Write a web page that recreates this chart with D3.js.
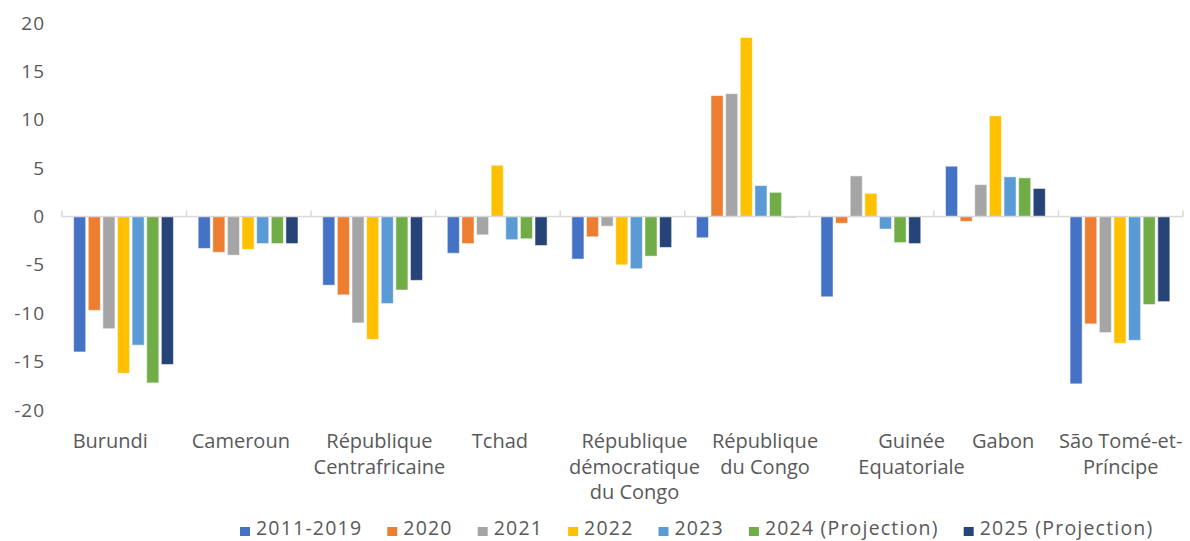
<!DOCTYPE html>
<html>
<head>
<meta charset="utf-8">
<script src="https://cdn.jsdelivr.net/npm/d3@7"></script>
<style>
  html, body { margin: 0; padding: 0; background: #fff; }
  svg { display: block; font-family: "Open Sans", sans-serif; }
</style>
</head>
<body>
<div id="chart"></div>
<script>
// Soldes par pays (CEMAC + voisins), 2011-2019 à 2025 (projections)

const countries = [
  'Burundi', 'Cameroun', 'République Centrafricaine', 'Tchad',
  'République démocratique du Congo', 'République du Congo',
  'Guinée Equatoriale', 'Gabon', 'São Tomé-et-Príncipe'
];
// label lines as they wrap in the original
const countryLines = [
  ['Burundi'], ['Cameroun'], ['République', 'Centrafricaine'], ['Tchad'],
  ['République', 'démocratique', 'du Congo'], ['République', 'du Congo'],
  ['Guinée', 'Equatoriale'], ['Gabon'], ['São Tomé-et-', 'Príncipe']
];

const seriesNames = ['2011-2019', '2020', '2021', '2022', '2023', '2024 (Projection)', '2025 (Projection)'];

// one array per series, in the order of countries
const v2011_2019 = [-14.0, -3.3, -7.1, -3.8, -4.4, -2.2, -8.3, 5.2, -17.3];
const v2020      = [-9.7, -3.7, -8.1, -2.8, -2.1, 12.5, -0.7, -0.5, -11.1];
const v2021      = [-11.6, -4.0, -11.0, -1.9, -1.0, 12.7, 4.2, 3.3, -12.0];
const v2022      = [-16.2, -3.4, -12.7, 5.3, -5.0, 18.5, 2.4, 10.4, -13.1];
const v2023      = [-13.3, -2.8, -9.0, -2.4, -5.4, 3.2, -1.3, 4.1, -12.8];
const v2024      = [-17.2, -2.8, -7.6, -2.3, -4.1, 2.5, -2.7, 4.0, -9.1];
const v2025      = [-15.3, -2.8, -6.6, -3.0, -3.2, -0.1, -2.8, 2.9, -8.8];

const yTicks = [-20, -15, -10, -5, 0, 5, 10, 15, 20];

const colors = ['#4472C4', '#ED7D31', '#A5A5A5', '#FFC000', '#5B9BD5', '#70AD47', '#264478'];

const seriesValues = [v2011_2019, v2020, v2021, v2022, v2023, v2024, v2025];

// layout
const W = 1190, H = 541;
const plot = { left: 62, right: 1183, top: 23, bottom: 410 };
// small horizontal nudges for the category labels, as placed in the original
const labelDx = [-14, -8, 6, 2, 12, 18, 40, 7, 0];

const svg = d3.select('#chart').append('svg')
  .attr('width', W).attr('height', H)
  .attr('viewBox', `0 0 ${W} ${H}`);

const x0 = d3.scaleBand().domain(countries).range([plot.left, plot.right]).padding(0);
const x1 = d3.scaleBand().domain(seriesNames).range([0, x0.bandwidth()])
  .paddingInner(0).paddingOuter(0.76);
const y = d3.scaleLinear().domain([-20, 20]).range([plot.bottom, plot.top]);

// y axis labels (no axis line, no grid); plain hyphen for negatives like Excel
const yAxis = svg.append('g')
  .attr('transform', `translate(${plot.left - 17},0)`)
  .call(d3.axisLeft(y).tickValues(yTicks).tickSize(0).tickPadding(0).tickFormat((d) => String(d)));
yAxis.select('.domain').remove();
yAxis.selectAll('text')
  .attr('fill', '#595959')
  .style('font-size', '19px')
  .style('letter-spacing', '1px')
  .style('font-family', '"Open Sans", sans-serif');

// bars
const rows = [];
countries.forEach((c, i) => {
  seriesNames.forEach((s, j) => rows.push({ country: c, series: s, value: seriesValues[j][i], k: j }));
});

svg.append('g').selectAll('rect')
  .data(rows)
  .join('rect')
  .attr('x', (d) => x0(d.country) + x1(d.series) + 0.5)
  .attr('width', x1.bandwidth() - 2.5)
  .attr('y', (d) => y(Math.max(0, d.value)))
  .attr('height', (d) => Math.abs(y(d.value) - y(0)))
  .attr('fill', (d) => colors[d.k])
  .attr('stroke', '#fff')
  .attr('stroke-opacity', 0.55)
  .attr('stroke-width', 1);

// zero line with category tick marks
const zero = y(0);
svg.append('line')
  .attr('x1', plot.left).attr('x2', plot.right)
  .attr('y1', zero).attr('y2', zero)
  .attr('stroke', '#D9D9D9').attr('stroke-width', 1.5);
const bounds = countries.map((c) => x0(c)).concat([plot.right]);
svg.append('g').selectAll('line')
  .data(bounds)
  .join('line')
  .attr('x1', (d) => d).attr('x2', (d) => d)
  .attr('y1', zero - 6).attr('y2', zero)
  .attr('stroke', '#D9D9D9').attr('stroke-width', 1.5);

// category labels
const catG = svg.append('g')
  .attr('font-size', 20)
  .attr('fill', '#595959')
  .attr('text-anchor', 'middle');
countryLines.forEach((lines, i) => {
  const cx = x0(countries[i]) + x0.bandwidth() / 2 + labelDx[i];
  const t = catG.append('text').attr('x', cx).attr('y', 448);
  lines.forEach((ln, k) => {
    t.append('tspan').attr('x', cx).attr('dy', k === 0 ? 0 : 25.5).text(ln);
  });
});

// legend
const legend = svg.append('g').attr('transform', 'translate(240,535)');
let lx = 0;
seriesNames.forEach((s, j) => {
  const item = legend.append('g').attr('transform', `translate(${lx},0)`);
  item.append('rect').attr('x', 0).attr('y', -8).attr('width', 10).attr('height', 9).attr('fill', colors[j]);
  const t = item.append('text')
    .attr('x', 16).attr('y', 0)
    .attr('font-size', 19.5)
    .attr('letter-spacing', 1.2)
    .attr('fill', '#595959')
    .text(s);
  lx += 16 + t.node().getComputedTextLength() + 25;
});
</script>
</body>
</html>
